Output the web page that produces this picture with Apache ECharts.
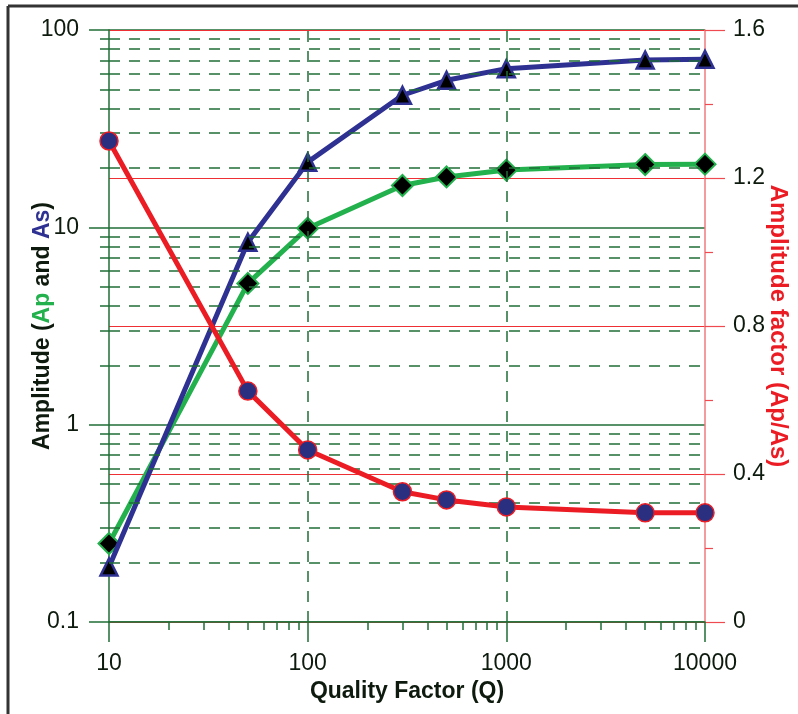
<!DOCTYPE html>
<html>
<head>
<meta charset="utf-8">
<script src="https://cdn.jsdelivr.net/npm/echarts@6/dist/echarts.min.js"></script>
<style>
html,body{margin:0;padding:0;background:#fff;}
#chart{width:798px;height:714px;}
</style>
</head>
<body>
<div id="chart"></div>
<script>
// ---- data ----
const qValues     = [10, 50, 100, 300, 500, 1000, 5000, 10000];
const apValues    = [0.25, 5.2, 9.9, 16.3, 18.0, 19.5, 20.8, 20.9];
const asValues    = [0.19, 8.4, 21.4, 46.7, 55.6, 63.7, 70.5, 71.0];
const ratioValues = [1.30, 0.624, 0.465, 0.352, 0.33, 0.311, 0.295, 0.295];
// grid helpers
const minorGridY  = [0.2,0.3,0.4,0.5,0.6,0.7,0.8,0.9, 2,3,4,5,6,7,8,9, 20,30,40,50,60,70,80,90];
const verticalGridX = [100, 1000];

const FONT = '"Liberation Sans", Arial, sans-serif';
const GREEN_GRID = '#1f6e36';
const C_GREEN = '#22b14c';
const C_BLUE = '#2e3192';
const C_RED = '#ec1c24';
const TXT = '#0d1a0d';

const pairs = (xs, ys) => xs.map((x, i) => [x, ys[i]]);
const fmt = v => String(+Number(v).toPrecision(6));

const chart = echarts.init(document.getElementById('chart'), null, {renderer: 'canvas'});
chart.setOption({
  animation: false,
  backgroundColor: '#fff',
  grid: {left: 109, right: 93, top: 30, bottom: 92, containLabel: false, outerBoundsMode: 'none'},
  graphic: [
    {type: 'line', shape: {x1: 8, y1: 6, x2: 8, y2: 714}, style: {stroke: '#333', lineWidth: 3}, z: 100},
    {type: 'line', shape: {x1: 8, y1: 6, x2: 798, y2: 6}, style: {stroke: '#333', lineWidth: 3}, z: 100}
  ],
  xAxis: {
    type: 'log', logBase: 10, min: 10, max: 10000,
    name: 'Quality Factor (Q)', nameLocation: 'middle', nameGap: 58, nameMoveOverlap: false,
    nameTextStyle: {fontFamily: FONT, fontSize: 23, fontWeight: 'bold', color: TXT},
    axisLine: {show: true, lineStyle: {color: GREEN_GRID, width: 1.5}},
    axisTick: {show: true, length: 20, lineStyle: {color: GREEN_GRID, width: 1.5}},
    minorTick: {show: true, splitNumber: 9, length: 8, lineStyle: {color: GREEN_GRID, width: 1.5}},
    axisLabel: {fontFamily: FONT, fontSize: 23, color: TXT, margin: 30, formatter: fmt},
    splitLine: {show: false}
  },
  yAxis: [
    {
      type: 'log', logBase: 10, min: 0.1, max: 100,
      name: '{d|Amplitude (}{g|Ap}{d| and }{b|As}{d|)}',
      nameLocation: 'middle', nameGap: 55, nameMoveOverlap: false,
      nameTextStyle: {
        fontFamily: FONT, fontSize: 23, fontWeight: 'bold', color: TXT,
        rich: {
          d: {fontFamily: FONT, fontSize: 23, fontWeight: 'bold', color: TXT},
          g: {fontFamily: FONT, fontSize: 23, fontWeight: 'bold', color: C_GREEN},
          b: {fontFamily: FONT, fontSize: 23, fontWeight: 'bold', color: C_BLUE}
        }
      },
      axisLine: {show: true, lineStyle: {color: GREEN_GRID, width: 1.5}},
      axisTick: {show: true, length: 20, lineStyle: {color: GREEN_GRID, width: 1.5}},
      minorTick: {show: true, splitNumber: 9, length: 9, lineStyle: {color: GREEN_GRID, width: 1.5}},
      axisLabel: {fontFamily: FONT, fontSize: 23, color: TXT, margin: 30, formatter: fmt},
      splitLine: {show: true, lineStyle: {color: GREEN_GRID, width: 1.5}}
    },
    {
      type: 'value', min: 0, max: 1.6, interval: 0.4, position: 'right',
      name: 'Amplitude factor (Ap/As)', nameLocation: 'middle', nameGap: 61, nameRotate: -90,
      nameMoveOverlap: false,
      nameTextStyle: {fontFamily: FONT, fontSize: 24, fontWeight: 'bold', color: C_RED},
      axisLine: {show: true, lineStyle: {color: '#f07a80', width: 1.5}},
      axisTick: {show: true, length: 20, lineStyle: {color: '#ee4a50', width: 1.2}},
      minorTick: {show: true, splitNumber: 2, length: 8, lineStyle: {color: '#ee4a50', width: 1.2}},
      axisLabel: {fontFamily: FONT, fontSize: 23, color: TXT, margin: 28, formatter: fmt},
      splitLine: {show: true, lineStyle: {color: '#ee3035', width: 1.2}}
    }
  ],
  series: [
    {
      name: 'grid', type: 'line', data: [], yAxisIndex: 0, silent: true,
      markLine: {
        silent: true, symbol: 'none', animation: false,
        label: {show: false},
        lineStyle: {color: GREEN_GRID, type: [11, 9], width: 1.5},
        data: minorGridY.map(v => ({yAxis: v})).concat(verticalGridX.map(v => ({xAxis: v})))
      }
    },
    {
      name: 'Ap', type: 'line', yAxisIndex: 0, data: pairs(qValues, apValues),
      lineStyle: {color: C_GREEN, width: 5},
      symbol: 'diamond', symbolSize: 21,
      itemStyle: {color: '#000', borderColor: C_GREEN, borderWidth: 2},
      z: 3
    },
    {
      name: 'As', type: 'line', yAxisIndex: 0, data: pairs(qValues, asValues),
      lineStyle: {color: C_BLUE, width: 5},
      symbol: 'triangle', symbolSize: 17,
      itemStyle: {color: '#000', borderColor: C_BLUE, borderWidth: 2.5},
      z: 4
    },
    {
      name: 'Ap/As', type: 'line', yAxisIndex: 1, data: pairs(qValues, ratioValues),
      lineStyle: {color: C_RED, width: 5},
      symbol: 'circle', symbolSize: 18,
      itemStyle: {color: '#2b2f7f', borderColor: C_RED, borderWidth: 1.5},
      z: 5
    }
  ]
});
</script>
</body>
</html>
